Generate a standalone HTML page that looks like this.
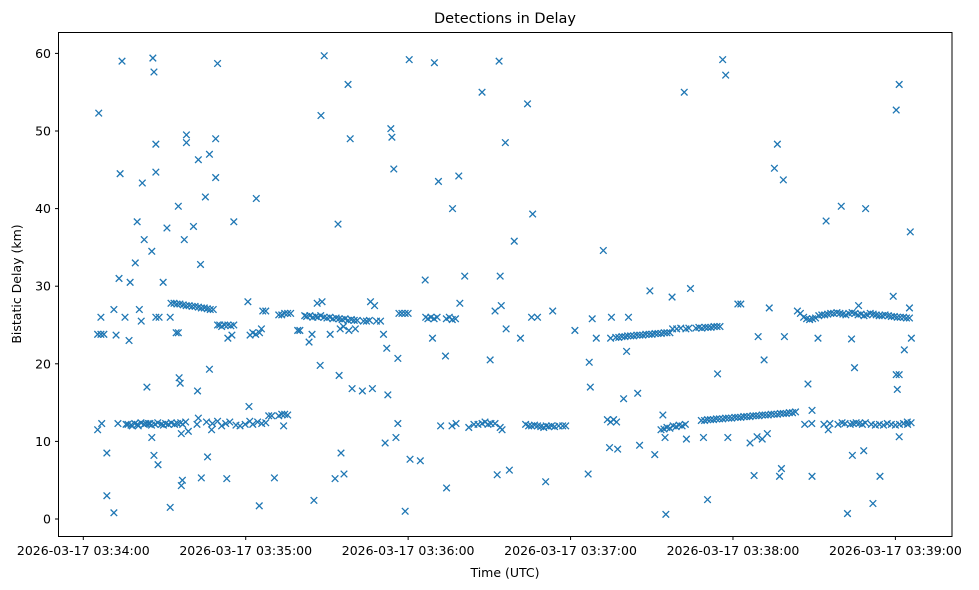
<!DOCTYPE html>
<html><head><meta charset="utf-8">
<style>
html,body{margin:0;padding:0;background:#fff;}
svg{display:block;font-family:"DejaVu Sans","Liberation Sans",sans-serif;}
</style></head>
<body>
<svg id="chart" width="979" height="590" viewBox="0 0 979 590">
  <rect x="0" y="0" width="979" height="590" fill="#fff"/>
  <text x="505" y="23" text-anchor="middle" font-size="14.5" fill="#000">Detections in Delay</text>
  <text x="505" y="577" text-anchor="middle" font-size="12.5" fill="#000">Time (UTC)</text>
  <text transform="translate(21,284) rotate(-90)" text-anchor="middle" font-size="12.5" fill="#000">Bistatic Delay (km)</text>
  <g id="marks"></g>
  <g id="axes"></g>
  <rect x="58.5" y="32.5" width="893.5" height="504" fill="none" stroke="#000" stroke-width="1"/>
</svg>
<script>
// Tick data
const xTickSeconds = [0, 60, 120, 180, 240, 300];
const xTickLabels = ["2026-03-17 03:34:00","2026-03-17 03:35:00","2026-03-17 03:36:00","2026-03-17 03:37:00","2026-03-17 03:38:00","2026-03-17 03:39:00"];
const yTickValues = [0, 10, 20, 30, 40, 50, 60];
// Detections: [seconds after 03:34:00, bistatic delay km]
const scattered = [
[5.7,52.3],[6.5,26],[5.3,23.8],[6.5,23.8],[7.6,23.8],[5.3,11.5],[6.8,12.3],[8.7,8.5],[8.7,3],[11.3,0.8],[11.3,27],[12.1,23.7],
[12.8,12.3],[13.2,31],[13.6,44.5],[14.3,59],[15.4,26],[15.8,12.2],[16.9,23],[17.3,30.5],[18.1,12],[19.2,33],[19.9,38.3],[20.3,12],
[20.7,27],[21.4,25.5],[21.8,43.3],[22.5,36],[23.1,12.3],[23.5,17],[24.6,12.3],[25.3,10.5],[25.3,34.5],[25.7,59.4],[26.1,57.6],
[26.1,8.2],[26.8,48.3],[26.8,44.7],[26.8,26],[27.6,7],[28,26],[29.5,30.5],[30.9,37.5],[32.1,1.5],[32.1,26],[34.3,24],[35.1,40.3],
[35.1,24],[35.4,18.2],[35.8,17.5],[36.2,4.3],[36.6,5],[36.2,11],[37.3,36],[38.1,49.5],[38.1,48.5],[38.8,11.3],[40.7,37.7],
[42.2,16.5],[42.5,46.3],[42.5,13],[43.3,32.8],[43.6,5.3],[45.1,41.5],[45.9,8],[46.6,47],[46.6,19.3],[47.4,11.5],[48.9,44],[48.9,49],
[49.6,58.7],[53,5.2],[53.4,23.3],[54.9,23.7],[55.6,38.3],[60.8,28],[61.2,14.5],[61.6,23.7],[63.9,41.3],[65,1.7],[65.8,24.5],
[70.6,5.3],[74,12],[79.2,24.3],[80,24.3],[83.4,22.8],[84.5,23.8],[85.2,2.4],[86.4,27.8],[87.5,19.8],[87.8,52],[88.2,28],[89,59.7],
[91.2,23.8],[93,5.2],[94.1,38],[94.5,18.5],[95.2,8.5],[96.3,5.8],[97.8,56],[98.6,49],[99.3,16.8],[100.5,24.5],[103.1,16.5],[106.1,28],
[106.8,16.8],[107.6,27.5],[110.9,23.8],[111.5,9.8],[112.1,22],[112.5,16],[113.6,50.3],[114,49.2],[114.7,45.1],[115.5,10.5],
[116.2,20.7],[116.2,12.3],[118.9,1],[120.4,59.2],[120.7,7.7],[124.5,7.5],[126.3,30.8],[129,23.3],[129.7,58.8],[131.2,43.5],
[132,12],[133.8,21],[134.2,4],[136.4,40],[138.7,44.2],[139.1,27.8],[140.9,31.3],[147.3,55],[150.3,20.5],[152.1,26.8],[152.9,5.7],
[153.6,59],[154,31.3],[154.4,27.5],[154.7,11.5],[155.9,48.5],[156.2,24.5],[157.4,6.3],[159.2,35.8],[161.5,23.3],[164.1,53.5],
[165.6,26],[166,39.3],[167.8,26],[170.8,4.8],[173.4,26.8],[181.6,24.3],[186.5,5.8],[186.9,20.2],[187.3,17],[188,25.8],
[189.5,23.3],[192.1,34.6],[194.4,9.2],[195.1,26],[197.4,9],[199.6,15.5],[200.7,21.6],[201.4,26],[204.8,16.2],[205.5,9.5],
[209.3,29.4],[211.1,8.3],[214.1,13.4],[214.9,10.5],[215.2,0.6],[217.5,28.6],[222,55],[222.8,10.3],[224.3,29.7],[229.1,10.5],
[230.6,2.5],[234.3,18.7],[236.2,59.2],[237.3,57.2],[238.1,10.5],[241.8,27.7],[242.9,27.7],[246.3,9.8],[247.8,5.6],[248.9,10.6],
[249.3,23.5],[250.8,10.3],[251.5,20.5],[252.7,11],[253.4,27.2],[255.3,45.2],[256.4,48.3],[257.2,5.5],[257.9,6.5],[258.6,43.7],
[259,23.5],[267.7,17.4],[269.2,5.5],[269.2,14],[271.4,23.3],[274.4,38.4],[275.2,11.5],[280,40.3],[282.3,0.7],[283.8,23.2],
[284.1,8.2],[284.9,19.5],[286.4,27.5],[288.3,8.8],[289,40],[291.7,2],[294.3,5.5],[299.2,28.7],[300.3,52.7],[301.4,56],[300.7,16.7],
[300.3,18.6],[301.4,18.6],[301.4,10.6],[303.3,21.8],[304.4,12.5],[305.2,27.2],[305.9,23.3],[305.5,37]
];
const bandNear12 = [
[16.5,12.2],[17.6,12.1],[19,12.3],[20,12.2],[21.3,12.4],[22.5,12.2],[24,12.3],[25.2,12.1],[26.5,12.2],[27.5,12.4],[28.8,12.2],
[29.6,12.1],[30.4,12.3],[31.4,12.2],[32.5,12.4],[33.7,12.2],[34.8,12.3],[36,12.4],[36.7,12.2],[37.8,12.5],
[42,12.2],[45.5,12.5],[47.7,12.3],[49.6,12.6],[51.1,12],[52.6,12.3],[54.1,12.5],[56.4,12.1],[57.9,12],[59.8,12.2],[61.5,12.6],
[62.6,12.2],[64.4,12.5],[65.9,12.3],[67.4,12.4],[68.5,13.3],[69.6,13.3],[72.2,13.3],[73.3,13.5],[74.4,13.5],[75.5,13.4],
[136.2,12],[137.7,12.3],[142.4,11.8],[144.3,12.2],[145.8,12.2],[147.3,12.3],[148.4,12.5],[149.5,12.2],[150.6,12.3],[152.1,12.3],[154,11.8],
[163.4,12.2],[164.5,12],[165.6,12],[166.7,12.1],[167.8,12],[169,11.9],[170.1,11.8],[171,12],[171.9,11.9],[173,12],[174.1,11.9],
[175.6,12],[177.1,12],[178.2,12],[193.6,12.8],[194.8,12.5],[195.9,12.8],[197,12.5],
[213.4,11.5],[214.5,11.6],[215.6,11.8],[216.7,11.7],[217.9,12],[219,11.9],[220.1,12.1],[221.2,12],[222.4,12.2],
[228.3,12.7],[229.5,12.7],[230.6,12.8],[231.7,12.8],[232.8,12.8],[233.9,12.9],[235,12.9],[236.2,12.9],[237.3,13],[238.4,13],
[239.5,13],[240.7,13.1],[241.8,13.1],[242.9,13.1],[244,13.2],[245.1,13.2],[246.3,13.2],[247.4,13.3],[248.5,13.3],[249.6,13.3],
[250.8,13.4],[251.9,13.4],[253,13.4],[254.1,13.5],[255.2,13.5],[256.4,13.5],[257.5,13.6],[258.6,13.6],[259.7,13.6],[260.8,13.7],
[262,13.7],[263.1,13.8],
[266.5,12.2],[269.1,12.3],[273.6,12.2],[275.8,12.3],[278.8,12.2],[280.3,12.4],[281.4,12.3],[283.3,12.2],[284.4,12.3],[285.5,12.4],
[286.6,12.3],[287.8,12.2],[288.9,12.4],[291.1,12.2],[292.6,12.1],[294.1,12.2],[295.6,12.1],[297,12.3],[298.5,12.2],[300,12.1],
[301.5,12.2],[303,12.3],[304.5,12.2],[305.8,12.4]
];
const bandNear26 = [
[32.4,27.8],[33.5,27.8],[34.6,27.7],[35.7,27.7],[36.9,27.6],[38,27.5],[39.1,27.5],[40.2,27.4],[41.3,27.4],[42.5,27.3],[43.6,27.2],
[44.7,27.2],[45.8,27.1],[46.9,27],[48,27],[49.6,25],[50.4,25],[51.1,24.8],[52.2,25],[53.4,25],[54.5,24.9],[55.6,25],
[62.6,24],[63.7,23.8],[65.1,24],[66.3,26.8],[67.4,26.8],[72.2,26.3],[73.3,26.3],[74.4,26.5],[75.5,26.5],[76.6,26.5],
[81.8,26.2],[82.5,26.1],[83.7,26.2],[84.8,26],[85.9,26.1],[86.6,26],[87.7,26.2],[88.9,26],[90,25.9],[91.1,26],[92.2,25.8],[93.4,25.9],
[94.5,25.8],[95.6,25.7],[96.7,25.8],[97.8,25.6],[99,25.7],[100.1,25.6],[101.2,25.6],[103.5,25.5],[104.6,25.5],[105.7,25.6],[108.3,25.5],
[109.8,25.5],[94.9,24.5],[96.1,24.8],[98.1,24.3],
[116.6,26.5],[117.7,26.5],[118.9,26.5],[120,26.5],
[126.5,26],[127.3,25.8],[128.4,26],[129.6,25.8],[130.7,26],[134.1,25.8],[135.2,26],[136.3,25.7],[137.5,25.8],
[194.8,23.3],[196.7,23.4],[197.8,23.4],[199,23.5],[200.1,23.5],[201.1,23.6],[202.2,23.6],[203.3,23.6],[204.5,23.7],[205.6,23.7],
[206.7,23.7],[207.8,23.8],[209,23.8],[210.1,23.8],[211.2,23.9],[212.3,23.9],[213.5,23.9],[214.6,24],[215.6,24],[216.7,24],
[217.7,24.5],[219.2,24.5],[220.7,24.6],[222.6,24.5],[223.7,24.6],[226.3,24.6],[227.4,24.7],[228.5,24.6],[229.7,24.7],[230.8,24.7],
[231.9,24.7],[233,24.8],[234.1,24.8],[235.2,24.8],
[263.8,26.8],[264.9,26.5],[266.1,26],[267.2,25.8],[268.3,25.7],[269.4,25.8],[270.5,25.9],[271.7,26.2],[272.8,26.3],[273.9,26.3],
[275,26.4],[276.1,26.5],[277.2,26.5],[278.4,26.6],[279.5,26.5],[280.6,26.4],[281.7,26.3],[282.8,26.5],[284,26.6],[285.1,26.5],
[286.2,26.3],[287.3,26.4],[288.4,26.2],[289.5,26.3],[290.7,26.5],[291.8,26.4],[292.9,26.3],[294,26.2],[295.1,26.2],[296.2,26.3],
[297.4,26.2],[298.5,26.1],[299.6,26.1],[300.7,26],[301.8,26],[303,26],[304.1,25.9],[305.2,25.9]
];

const X0 = 83.3, PX_PER_SEC = 2.707, Y0 = 519, PX_PER_KM = 7.76;
function xScale(t){ return X0 + PX_PER_SEC * t; }
function yScale(v){ return Y0 - PX_PER_KM * v; }
const NS = "http://www.w3.org/2000/svg";
const marks = document.getElementById('marks');
const axes = document.getElementById('axes');

function drawPoint(p){
  const x = xScale(p[0]), y = yScale(p[1]), r = 3.3;
  const path = document.createElementNS(NS, 'path');
  path.setAttribute('d', `M${x-r},${y-r}L${x+r},${y+r}M${x-r},${y+r}L${x+r},${y-r}`);
  path.setAttribute('stroke', '#1f77b4');
  path.setAttribute('stroke-width', '1.3');
  path.setAttribute('fill', 'none');
  
  
  marks.appendChild(path);
}
scattered.forEach(drawPoint);
bandNear12.forEach(drawPoint);
bandNear26.forEach(drawPoint);

xTickSeconds.forEach((t, i) => {
  const x = xScale(t);
  const tick = document.createElementNS(NS, 'line');
  tick.setAttribute('x1', x); tick.setAttribute('x2', x);
  tick.setAttribute('y1', 536.5); tick.setAttribute('y2', 540);
  tick.setAttribute('stroke', '#000');
  
  
  axes.appendChild(tick);
  const label = document.createElementNS(NS, 'text');
  label.setAttribute('x', x); label.setAttribute('y', 555);
  label.setAttribute('text-anchor', 'middle');
  label.setAttribute('font-size', '12.5');
  label.textContent = xTickLabels[i];
  
  
  axes.appendChild(label);
});
yTickValues.forEach(v => {
  const y = yScale(v);
  const tick = document.createElementNS(NS, 'line');
  tick.setAttribute('x1', 55); tick.setAttribute('x2', 58.5);
  tick.setAttribute('y1', y); tick.setAttribute('y2', y);
  tick.setAttribute('stroke', '#000');
  
  
  axes.appendChild(tick);
  const label = document.createElementNS(NS, 'text');
  label.setAttribute('x', 51); label.setAttribute('y', y + 4.5);
  label.setAttribute('text-anchor', 'end');
  label.setAttribute('font-size', '12.5');
  label.textContent = v;
  
  
  axes.appendChild(label);
});
</script>
</body></html>
